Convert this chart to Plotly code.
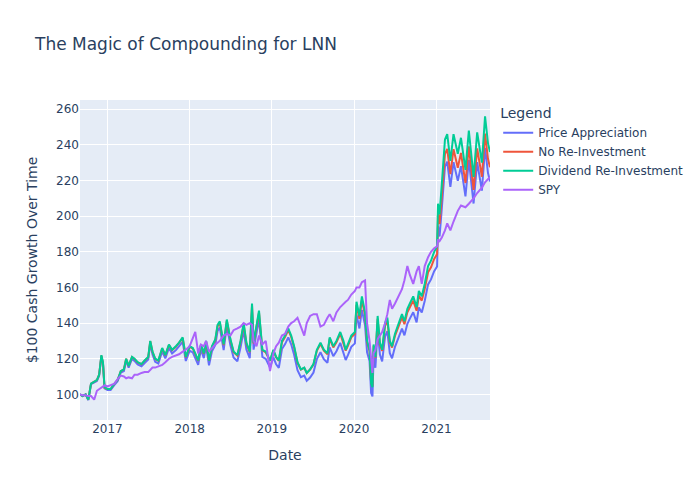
import plotly.graph_objects as go

dates = [
    "2016-09-01", "2016-09-12", "2016-09-26", "2016-10-08", "2016-10-20", "2016-11-03", "2016-11-15", "2016-11-25",
    "2016-12-05", "2016-12-12", "2016-12-19",
    "2017-01-01", "2017-01-15", "2017-02-01", "2017-02-15", "2017-03-01", "2017-03-15", "2017-03-25", "2017-04-05",
    "2017-04-20", "2017-05-01", "2017-05-15", "2017-06-01", "2017-06-15", "2017-07-01", "2017-07-10", "2017-07-20",
    "2017-08-01", "2017-08-15", "2017-09-01", "2017-09-15", "2017-10-01", "2017-10-15", "2017-11-01", "2017-11-15",
    "2017-12-01", "2017-12-15",
    "2018-01-01", "2018-01-15", "2018-01-26", "2018-02-08", "2018-02-20", "2018-03-05", "2018-03-15", "2018-03-28",
    "2018-04-10", "2018-04-25", "2018-05-05", "2018-05-15", "2018-06-01", "2018-06-15", "2018-07-01", "2018-07-15",
    "2018-08-01", "2018-08-15", "2018-08-29", "2018-09-10", "2018-09-25", "2018-10-05", "2018-10-12", "2018-10-25",
    "2018-11-05", "2018-11-20", "2018-12-05", "2018-12-24",
    "2019-01-08", "2019-01-20", "2019-02-01", "2019-02-15", "2019-03-01", "2019-03-15", "2019-03-28", "2019-04-10",
    "2019-04-25", "2019-05-10", "2019-05-25", "2019-06-05", "2019-06-20", "2019-07-05", "2019-07-20", "2019-08-05",
    "2019-08-20", "2019-09-05", "2019-09-15", "2019-10-01", "2019-10-15", "2019-11-01", "2019-11-15", "2019-11-25",
    "2019-12-05", "2019-12-20",
    "2020-01-05", "2020-01-12", "2020-01-25", "2020-02-05", "2020-02-19", "2020-02-28", "2020-03-10", "2020-03-17",
    "2020-03-23", "2020-03-28", "2020-04-05", "2020-04-15", "2020-04-25", "2020-05-05", "2020-05-18", "2020-05-28",
    "2020-06-08", "2020-06-18", "2020-07-01", "2020-07-15", "2020-08-01", "2020-08-12", "2020-08-25", "2020-09-05",
    "2020-09-20", "2020-10-05", "2020-10-15", "2020-10-28", "2020-11-10", "2020-11-25", "2020-12-08", "2020-12-22",
    "2021-01-04", "2021-01-08", "2021-01-15", "2021-01-25", "2021-02-08", "2021-02-18", "2021-03-04", "2021-03-18",
    "2021-04-06", "2021-04-20", "2021-05-10", "2021-05-25", "2021-06-15", "2021-07-01", "2021-07-22", "2021-08-05",
    "2021-08-18", "2021-08-27",
]

price_appreciation = [
    100, 99, 99.9, 96.8, 105.7, 106.6, 107.5, 110.5, 121.3, 117.3, 103.3,
    102.5, 102.4, 105.3, 107.3, 112.2, 113.1, 119, 115, 119.9, 118.8, 116.8, 115.7, 117.6, 119.5, 128.4, 122.4,
    118.3, 117.3, 124.1, 120.2, 126, 123, 124.8, 126.8, 129.5, 118.7,
    124.5, 123.5, 120.5, 116.5, 125.2, 120.3, 127.1, 116.3, 124.1, 127.8, 135.6, 137.5, 124.8, 138.4, 127.5, 120.7,
    118.6, 126.3, 135.9, 125.2, 120.3, 146.4, 125.1, 133.7, 142.4, 121, 119.9, 115.1,
    120.8, 116.9, 114.9, 125.4, 128.2, 132, 128.1, 122.2, 113.5, 109.6, 110.5, 107.6, 109.4, 112.2, 119.8, 123.6,
    119.7, 117.7, 126.3, 121.4, 124.2, 128.9, 124, 119.3, 122, 126.7,
    128.6, 144.8, 137, 147.4, 138.8, 123.6, 118.7, 100.7, 98.8, 121.5, 114.9, 136.6, 122.3, 118.5, 132.6, 135.4,
    123.1, 120.2, 126.7, 131.4, 136.9, 133.1, 139.6, 142.5, 146.1, 140.4, 148.8, 145.9, 152.4, 161.7, 164.5, 169.1,
    171.8, 194.4, 188.6, 204.5, 227.8, 230.6, 216.4, 230.3, 219.8, 228.1, 211.1, 231.6, 207.1, 230.3, 214.3, 238.4,
    224.3, 219.5,
]

no_reinvestment = [
    100, 99, 100, 97, 106, 107, 108, 111, 121.7, 117.7, 103.7,
    103, 103, 106, 108, 113, 114, 120, 116, 120.9, 119.9, 117.9, 116.9, 118.9, 120.8, 129.8, 123.8,
    119.8, 118.8, 125.7, 121.9, 127.7, 124.8, 126.7, 128.7, 131.5, 120.8,
    126.6, 125.7, 122.7, 118.8, 127.6, 122.7, 129.6, 118.8, 126.7, 130.4, 138.3, 140.2, 127.6, 141.3, 130.4, 123.7,
    121.7, 129.4, 139.1, 128.4, 123.6, 149.7, 128.5, 137.1, 145.9, 124.6, 123.5, 118.8,
    124.6, 120.7, 118.8, 129.3, 132.2, 136.1, 132.2, 126.4, 117.7, 113.9, 114.9, 112, 113.9, 116.7, 124.4, 128.3,
    124.5, 122.5, 131.2, 126.3, 129.2, 134, 129.1, 124.5, 127.2, 132,
    134, 150.2, 142.4, 152.9, 144.4, 129.2, 124.3, 106.4, 104.5, 127.2, 120.6, 142.4, 128.1, 124.4, 138.5, 141.4,
    129.1, 126.3, 132.8, 137.6, 143.2, 139.4, 146, 148.9, 152.6, 146.9, 155.4, 152.6, 159.1, 168.5, 171.3, 176,
    178.7, 201.4, 195.6, 211.5, 234.9, 237.8, 223.6, 237.6, 227.2, 235.5, 218.6, 239.2, 214.8, 238, 222.1, 246.3,
    232.2, 227.5,
]

dividend_reinvestment = [
    100, 99, 100, 97, 106, 107, 108, 111, 122, 118, 104,
    103, 103, 106, 108, 113, 114, 120, 116, 121, 120, 118, 117, 119, 121, 130, 124,
    120, 119, 126, 122, 128, 125, 127, 129, 132, 121,
    127, 126, 123, 119, 128, 123, 130, 119, 127, 131, 139, 141, 128, 142, 131, 124,
    122, 130, 140, 129, 124, 151, 129, 138, 147, 125, 124, 119,
    125, 121, 119, 130, 133, 137, 133, 127, 118, 114, 115, 112, 114, 117, 125, 129,
    125, 123, 132, 127, 130, 135, 130, 125, 128, 133,
    135, 152, 144, 155, 146, 130, 125, 106, 104, 128, 121, 144, 129, 125, 140, 143,
    130, 127, 134, 139, 145, 141, 148, 151, 155, 149, 158, 155, 162, 172, 175, 180,
    183, 207, 201, 218, 243, 246, 231, 246, 235, 244, 226, 248, 222, 247, 230, 256,
    241, 236,
]

spy = [
    100, 99.5, 99.5, 99, 99, 97, 102, 103, 103.5, 104.5, 105,
    104.5, 105, 106, 108.5, 110.5, 110, 109, 109.5, 109, 111, 111, 112, 112.5, 112.5, 113.5, 115,
    115, 115.5, 116.5, 118, 120, 121, 122, 122.5, 124, 125,
    127, 131, 135, 123, 128, 127, 130, 124, 126, 128, 129, 130, 133, 134, 133, 136,
    137, 138, 140, 139, 140, 139, 130, 127, 133, 128, 130, 113,
    123, 127, 129, 133, 134, 138, 140, 141, 143, 138, 133, 140, 144, 145, 145, 138,
    139, 143, 145, 141, 146, 149, 151, 152, 153, 156,
    158, 160, 160, 163, 164, 140, 130, 118, 112, 123, 125, 131, 133, 135, 140, 145,
    153, 148, 151, 155, 159, 164, 172, 167, 162, 169, 172, 162, 172, 177, 180, 182,
    183, 187, 186, 188, 192, 196, 192, 197, 203, 206, 205, 207, 210, 213, 216, 219,
    221, 222,
]

series = [
    ("Price Appreciation", price_appreciation, "#636efa"),
    ("No Re-Investment", no_reinvestment, "#EF553B"),
    ("Dividend Re-Investment", dividend_reinvestment, "#00cc96"),
    ("SPY", spy, "#ab63fa"),
]

fig = go.Figure()
for name, vals, color in series:
    fig.add_trace(go.Scatter(x=dates, y=vals, mode="lines", name=name,
                             line=dict(color=color, width=2)))

fig.update_layout(
    template="plotly",
    width=700, height=500,
    font=dict(family="DejaVu Sans"),
    title=dict(text="The Magic of Compounding for LNN"),
    xaxis=dict(title=dict(text="Date"), range=["2016-09-01", "2021-08-27"]),
    yaxis=dict(title=dict(text="$100 Cash Growth Over Time"), range=[85.6, 265.2]),
    legend=dict(title=dict(text="Legend")),
)

fig.write_html("out.html", config={"displayModeBar": False},
               post_script="document.body.style.margin='0';")
